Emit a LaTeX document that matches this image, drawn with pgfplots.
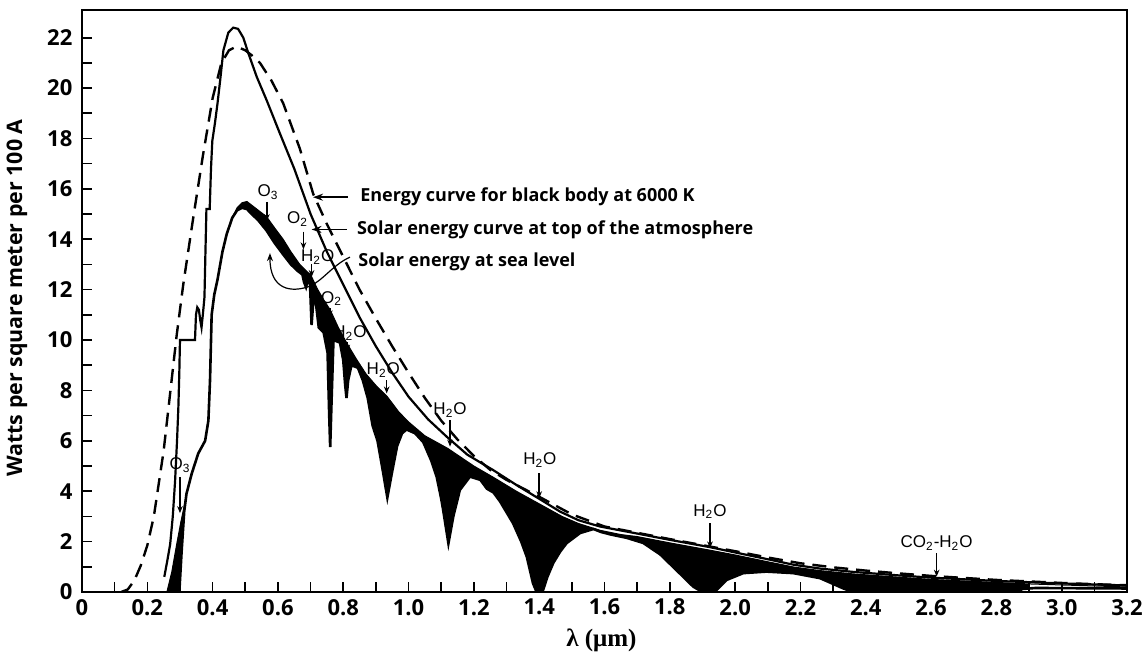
\documentclass[border=0pt]{standalone}
\usepackage{pgfplots}
\pgfplotsset{compat=1.18}
\usepackage{pgfplotstable}
\usepgfplotslibrary{fillbetween}
\usetikzlibrary{arrows.meta}
\usepackage{fontspec}
\setmainfont{Open Sans}
\newfontfamily\chemfont{Liberation Sans}
\newfontfamily\seriffont{Liberation Serif}

% Black body at 6000 K (scaled)
\pgfplotstableread{
x y
0.12 0
0.14 0.1
0.16 0.45
0.18 1.05
0.20 1.85
0.22 3.0
0.25 5.6
0.27 7.9
0.29 10.2
0.31 12.2
0.34 14.8
0.37 17.3
0.40 19.6
0.427 21.0
0.45 21.5
0.473 21.65
0.50 21.5
0.52 21.3
0.545 21.0
0.58 20.3
0.616 19.4
0.667 17.6
0.708 15.8
0.75 14.6
0.80 13.3
0.85 12.0
0.90 10.85
0.95 9.75
1.0 8.7
1.05 7.7
1.1 6.8
1.15 6.05
1.2 5.4
1.25 4.85
1.3 4.45
1.4 3.78
1.5 3.08
1.6 2.6
1.7 2.35
1.8 2.1
1.9 1.86
2.0 1.62
2.1 1.37
2.2 1.14
2.3 0.98
2.4 0.85
2.5 0.74
2.6 0.64
2.7 0.56
2.8 0.48
2.9 0.42
3.0 0.36
3.1 0.31
3.2 0.27
}\blackbody

% Solar irradiance at the top of the atmosphere
\pgfplotstableread{
x y
0.252 0.6
0.262 1.3
0.270 1.9
0.278 3.0
0.285 4.4
0.291 6.0
0.295 7.3
0.298 8.7
0.300 10.0
0.346 10.0
0.349 11.0
0.353 11.3
0.358 11.2
0.362 10.8
0.366 10.5
0.370 11.0
0.375 11.7
0.378 13.5
0.381 15.2
0.391 15.2
0.395 16.8
0.399 17.9
0.407 18.6
0.415 19.4
0.423 20.3
0.433 21.5
0.448 22.2
0.463 22.4
0.478 22.35
0.494 22.0
0.509 21.4
0.535 20.45
0.566 19.5
0.606 18.2
0.65 16.8
0.70 15.0
0.75 13.5
0.80 12.2
0.85 10.9
0.90 9.75
0.95 8.7
1.0 7.75
1.06 6.85
1.118 6.15
1.18 5.45
1.259 4.84
1.33 4.25
1.40 3.7
1.464 3.19
1.52 2.85
1.586 2.6
1.7 2.32
1.8 2.07
1.923 1.78
2.0 1.57
2.1 1.3
2.18 1.08
2.26 0.93
2.36 0.8
2.5 0.66
2.6 0.57
2.8 0.44
3.0 0.34
3.2 0.26
}\toa

% Sea level without molecular absorption (upper edge of the bands)
\pgfplotstableread{
x y
0.260 0
0.275 0.8
0.290 1.9
0.303 2.8
0.312 3.35
0.320 3.9
0.336 4.7
0.356 5.5
0.377 6.0
0.387 6.8
0.392 8.4
0.397 11.0
0.405 11.8
0.415 12.4
0.43 13.5
0.443 14.2
0.46 14.85
0.475 15.25
0.49 15.45
0.505 15.5
0.52 15.35
0.54 15.15
0.565 14.9
0.59 14.45
0.616 14.0
0.64 13.5
0.667 13.0
0.69 12.7
0.70 12.6
0.72 12.05
0.74 11.6
0.76 11.2
0.785 10.5
0.81 9.9
0.84 9.25
0.87 8.65
0.90 8.2
0.935 7.75
0.97 7.15
1.0 6.75
1.05 6.2
1.12 5.7
1.2 5.0
1.26 4.55
1.33 4.0
1.40 3.5
1.47 3.0
1.52 2.72
1.586 2.45
1.65 2.28
1.7 2.2
1.8 1.95
1.923 1.66
2.0 1.47
2.1 1.2
2.18 0.99
2.26 0.85
2.36 0.72
2.5 0.59
2.6 0.5
2.7 0.44
2.8 0.38
2.9 0.32
3.0 0.28
3.2 0.2
}\envelope

% Solar irradiance at sea level
\pgfplotstableread{
x y
0.260 0
0.298 0
0.305 1.6
0.313 3.2
0.320 3.9
0.336 4.7
0.356 5.5
0.377 6.0
0.387 6.8
0.392 8.4
0.397 11.0
0.405 11.8
0.415 12.4
0.43 13.5
0.443 14.2
0.46 14.85
0.475 15.15
0.49 15.25
0.505 15.2
0.52 15.0
0.54 14.75
0.565 14.35
0.59 13.85
0.616 13.4
0.64 13.0
0.66 12.75
0.675 12.6
0.68 12.3
0.686 12.1
0.692 12.4
0.698 12.3
0.703 10.6
0.708 11.5
0.715 11.6
0.725 10.5
0.74 10.3
0.752 9.5
0.757 7.0
0.760 5.75
0.764 7.5
0.77 10.0
0.79 9.9
0.80 9.2
0.806 8.2
0.81 7.7
0.815 8.4
0.825 9.0
0.845 8.9
0.86 8.4
0.875 7.7
0.89 6.6
0.905 6.0
0.92 4.9
0.935 3.75
0.95 4.8
0.965 5.8
0.98 6.3
0.994 6.45
1.02 6.3
1.045 5.95
1.07 5.2
1.086 4.58
1.1 3.7
1.106 3.25
1.122 1.93
1.137 3.0
1.157 4.05
1.188 4.58
1.22 4.45
1.24 4.1
1.26 3.95
1.28 3.6
1.32 2.73
1.345 2.0
1.362 1.4
1.381 0.35
1.392 0
1.41 0
1.425 0.6
1.443 1.15
1.464 1.6
1.484 1.94
1.525 2.34
1.566 2.5
1.59 2.38
1.62 2.28
1.668 2.15
1.718 1.95
1.77 1.5
1.82 0.87
1.872 0.21
1.90 0
1.93 0
1.943 0.08
1.974 0.48
2.025 0.75
2.096 0.81
2.178 0.75
2.26 0.55
2.33 0.15
2.36 0
2.86 0
2.88 0.12
2.92 0.16
3.2 0.14
}\sealevel

\begin{document}
\begin{tikzpicture}
\begin{axis}[
  scale only axis,
  width=522.5pt, height=291pt,
  xmin=0, xmax=3.2, ymin=0, ymax=23.1,
  axis line style={line width=1pt},
  tick align=inside,
  xtick pos=bottom, ytick pos=left,
  major tick length=5pt, minor tick length=5pt,
  every tick/.style={black, line width=0.8pt},
  xtick={0,0.2,0.4,0.6,0.8,1,1.2,1.4,1.6,1.8,2,2.2,2.4,2.6,2.8,3,3.2},
  xticklabels={0,0.2,0.4,0.6,0.8,1.0,1.2,1.4,1.6,1.8,2.0,2.2,2.4,2.6,2.8,3.0,3.2},
  minor xtick={0.1,0.3,0.5,0.7,0.9,1.1,1.3,1.5,1.7,1.9,2.1,2.3,2.5,2.7,2.9,3.1},
  ytick={0,2,4,6,8,10,12,14,16,18,20,22},
  yticklabels={0,2,4,6,8,10,12,14,16,18,20,22},
  minor ytick={1,3,5,7,9,11,13,15,17,19,21},
  ticklabel style={font=\bfseries\fontsize{11}{12}\selectfont},
  yticklabel style={xshift=-1.3pt},
  xlabel={\seriffont\bfseries\fontsize{12.5}{14}\selectfont λ (μm)},
  xlabel style={at={([yshift=-24pt]axis description cs:0.497,0)}, anchor=center},
  ylabel={\bfseries\fontsize{10.7}{12}\selectfont Watts per square meter per 100 A},
  ylabel style={at={([xshift=-32.5pt]axis description cs:0,0.505)}, anchor=center, rotate=0},
]
\coordinate (SW) at (rel axis cs:0,0);
\coordinate (NE) at (rel axis cs:1,1);

% absorption bands
\addplot[draw=black, line width=0.5pt, name path=env] table {\envelope};
\addplot[draw=black, line width=1.3pt, name path=sea] table {\sealevel};
\addplot[black] fill between[of=env and sea, soft clip={domain=0.25:2.9}];

% top of the atmosphere and black body
\addplot[black, line width=1.1pt] table {\toa};
\addplot[black, line width=1.2pt, dash pattern=on 7pt off 4pt] table {\blackbody};

% curve captions
\begin{scope}[every node/.style={font=\bfseries\fontsize{9}{11}\selectfont, anchor=west, inner sep=0pt}]
  \node at (axis cs:0.851,15.67) {Energy curve for black body at 6000 K};
  \node at (axis cs:0.841,14.37) {Solar energy curve at top of the atmosphere};
  \node at (axis cs:0.845,13.1) {Solar energy at sea level};
\end{scope}
\draw[line width=0.8pt, -{Stealth[length=5pt,width=3.5pt]}] (axis cs:0.8145,15.67) -- (axis cs:0.7073,15.67);
\draw[line width=0.8pt, -{Stealth[length=5pt,width=3.5pt]}] (axis cs:0.810,14.39) -- (axis cs:0.703,14.39);
\draw[line width=0.6pt, -{Stealth[length=4pt,width=3pt]}]
  (axis cs:0.8206,13.29) .. controls (axis cs:0.77,13.0) and (axis cs:0.74,12.4) ..
  (axis cs:0.70,12.15) .. controls (axis cs:0.64,11.85) and (axis cs:0.575,12.0) ..
  (axis cs:0.5756,13.45);

% absorbing gases
\begin{scope}[every node/.style={font=\chemfont\fontsize{8.5}{10}\selectfont, inner sep=0pt}]
  \node at (axis cs:0.300,5.04) {O\textsubscript{3}};
  \node at (axis cs:0.570,15.88) {O\textsubscript{3}};
  \node at (axis cs:0.660,14.8) {O\textsubscript{2}};
  \node at (axis cs:0.722,13.3) {H\textsubscript{2}O};
  \node at (axis cs:0.7645,11.65) {O\textsubscript{2}};
  \node at (axis cs:0.8206,10.27) {H\textsubscript{2}O};
  \node at (axis cs:0.9226,8.81) {H\textsubscript{2}O};
  \node at (axis cs:1.127,7.22) {H\textsubscript{2}O};
  \node at (axis cs:1.402,5.24) {H\textsubscript{2}O};
  \node at (axis cs:1.923,3.19) {H\textsubscript{2}O};
  \node at (axis cs:2.617,1.93) {CO\textsubscript{2}-H\textsubscript{2}O};
\end{scope}
\begin{scope}[line width=0.7pt, -{Stealth[length=3.5pt,width=2.8pt]}]
  \draw (axis cs:0.300,4.56) -- (axis cs:0.300,3.13);
  \draw (axis cs:0.566,15.48) -- (axis cs:0.566,14.72);
  \draw (axis cs:0.678,14.3) -- (axis cs:0.678,13.6);
  \draw (axis cs:0.703,13.0) -- (axis cs:0.703,12.5);
  \draw (axis cs:0.759,11.27) -- (axis cs:0.759,10.9);
  \draw (axis cs:0.8125,9.93) -- (axis cs:0.8125,9.54);
  \draw (axis cs:0.933,8.41) -- (axis cs:0.933,7.88);
  \draw (axis cs:1.127,6.83) -- (axis cs:1.127,5.77);
  \draw (axis cs:1.40,4.71) -- (axis cs:1.40,3.72);
  \draw (axis cs:1.923,2.73) -- (axis cs:1.923,1.73);
  \draw (axis cs:2.617,1.54) -- (axis cs:2.617,0.61);
\end{scope}
\end{axis}
\pgfresetboundingbox
\path ([xshift=-41pt,yshift=-31pt]SW) rectangle ([xshift=8pt,yshift=5pt]NE);
\end{tikzpicture}
\end{document}
